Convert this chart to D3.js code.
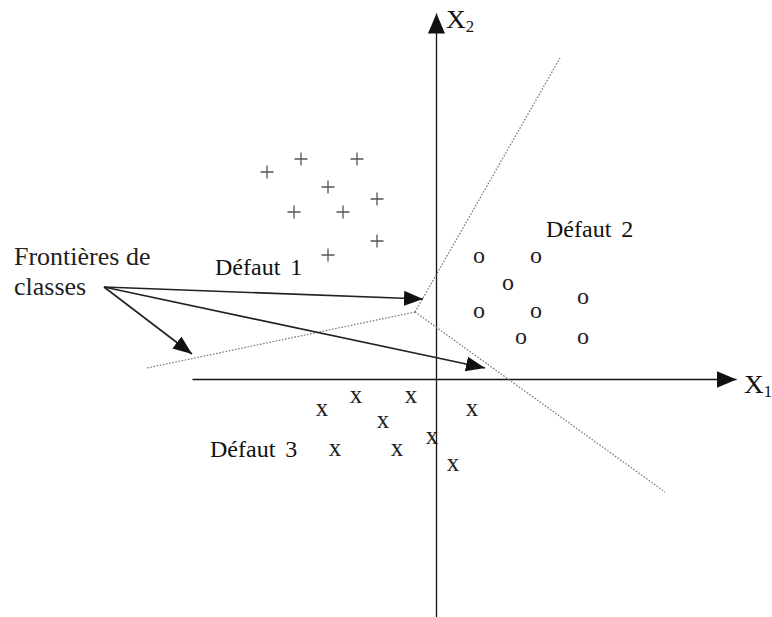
<!DOCTYPE html>
<html>
<head>
<meta charset="utf-8">
<script src="https://cdnjs.cloudflare.com/ajax/libs/d3/7.8.5/d3.min.js"></script>
<style>
  body { margin: 0; background: #fff; }
  svg { display: block; }
</style>
</head>
<body>
<div id="chart"></div>
<script>
// class scatter with decision boundaries
// units: 1 = 10px, origin at axis crossing

const plusX = [-16.9, -13.5, -7.9, -10.8, -14.2, -9.3, -5.9, -5.9, -10.8];
const plusY = [20.7, 22.0, 22.0, 19.2, 16.7, 16.7, 18.0, 13.8, 12.4];

const circX = [4.3, 10.0, 7.2, 14.7, 4.3, 10.0, 8.5, 14.7];
const circY = [12.2, 12.2, 9.5, 8.1, 6.7, 6.7, 4.1, 4.1];

const crossX = [-11.4, -8.0, -2.5, -5.3, 3.6, -0.4, -10.1, -3.9, 1.7];
const crossY = [-3.1, -1.8, -1.8, -4.3, -3.1, -5.9, -7.1, -7.1, -8.6];

// boundary polylines (gray dotted)
const boundaryUpper = [[-2.1, 6.7], [-1.3, 8.1], [12.4, 32.1]];
const boundaryLeft = [[-2.1, 6.7], [-28.9, 1.1]];
const boundaryRight = [[-2.1, 6.7], [22.9, -11.3]];

// "Frontières de classes" arrows
const arrowFrom = [-33.2, 9.2];
const arrowTips = [[-1.3, 8.0], [4.9, 1.1], [-24.4, 2.5]];

const classNames = ["Défaut", "Défaut", "Défaut"];
const classNums = ["1", "2", "3"];
const classLabelX = [-22.1, 11.0, -22.6];
const classLabelY = [10.4, 14.2, -7.8];

const axisX1 = [-24.4, 30.0];
const axisX2 = [-24.0, 36.6];

const W = 772, H = 617;
const FONT = "'Liberation Serif', 'DejaVu Serif', serif";

const svg = d3.select("#chart").append("svg")
    .attr("width", W)
    .attr("height", H);

const x = d3.scaleLinear().domain([0, 10]).range([436, 536]);
const y = d3.scaleLinear().domain([0, 10]).range([379, 279]);

// arrow markers
const defs = svg.append("defs");
function addMarker(id, len, wid) {
    defs.append("marker")
        .attr("id", id)
        .attr("markerUnits", "userSpaceOnUse")
        .attr("viewBox", `0 ${-wid / 2} ${len} ${wid}`)
        .attr("refX", len)
        .attr("refY", 0)
        .attr("markerWidth", len)
        .attr("markerHeight", wid)
        .attr("orient", "auto")
        .append("path")
        .attr("d", `M0,${-wid / 2}L${len},0L0,${wid / 2}Z`)
        .attr("fill", "#111");
}
addMarker("axisHead", 20, 17);
addMarker("noteHead", 19, 15);

// axes (no ticks, just the domain line with an arrow)
const xa = x.copy().domain(axisX1).range(axisX1.map(x));
const ya = y.copy().domain(axisX2).range(axisX2.map(y));

const gx = svg.append("g")
    .attr("transform", `translate(0,${y(0)})`)
    .call(d3.axisBottom(xa).tickValues([]).tickSizeOuter(0));
const gy = svg.append("g")
    .attr("transform", `translate(${x(0)},0)`)
    .call(d3.axisLeft(ya).tickValues([]).tickSizeOuter(0));

[gx, gy].forEach(g => {
    g.select(".domain")
        .attr("stroke", "#111")
        .attr("stroke-width", 1.3)
        .attr("marker-end", "url(#axisHead)");
});

// axis labels
function axisLabel(px, py, main, sub) {
    const t = svg.append("text")
        .attr("transform", `translate(${px},${py}) scale(1.05,1)`)
        .attr("font-family", FONT)
        .attr("fill", "#111")
        .attr("font-size", 26);
    t.append("tspan").text(main);
    t.append("tspan").attr("font-size", 16).attr("dy", 4).text(sub);
}
axisLabel(x(1.0), y(35.1), "X", "2");
axisLabel(x(30.8), y(-1.4), "X", "1");

// boundaries
const line = d3.line().x(d => x(d[0])).y(d => y(d[1]));
[boundaryUpper, boundaryLeft, boundaryRight].forEach(b => {
    svg.append("path")
        .attr("d", line(b))
        .attr("fill", "none")
        .attr("stroke", "#777")
        .attr("stroke-width", 1.2)
        .attr("stroke-dasharray", "1.6,1.6");
});

// annotation arrows
arrowTips.forEach(t => {
    svg.append("line")
        .attr("x1", x(arrowFrom[0])).attr("y1", y(arrowFrom[1]))
        .attr("x2", x(t[0])).attr("y2", y(t[1]))
        .attr("stroke", "#222")
        .attr("stroke-width", 1.6)
        .attr("marker-end", "url(#noteHead)");
});

// "+" markers as thin crosses
const arm = 6.5;
svg.append("g").selectAll("path")
    .data(plusX.map((v, i) => [v, plusY[i]]))
    .enter()
    .append("path")
    .attr("d", d => `M${x(d[0]) - arm},${y(d[1])}H${x(d[0]) + arm}M${x(d[0])},${y(d[1]) - arm}V${y(d[1]) + arm}`)
    .attr("stroke", "#555")
    .attr("stroke-width", 1.3);

// "o" and "x" markers as glyphs
function glyphs(xs, ys, ch, size, lift) {
    svg.append("g").selectAll("text")
        .data(xs.map((v, i) => [v, ys[i]]))
        .enter()
        .append("text")
        .attr("x", d => x(d[0]))
        .attr("y", d => y(d[1]) + lift)
        .attr("text-anchor", "middle")
        .attr("font-family", FONT)
        .attr("font-size", size)
        .attr("fill", "#222")
        .text(ch);
}
glyphs(circX, circY, "o", 24, 5.5);
glyphs(crossX, crossY, "x", 25, 5.5);

// class labels
classNames.forEach((n, i) => {
    const t = svg.append("text")
        .attr("x", x(classLabelX[i]))
        .attr("y", y(classLabelY[i]))
        .attr("font-family", FONT)
        .attr("fill", "#111")
        .attr("font-size", 24);
    t.append("tspan").text(n);
    t.append("tspan").attr("dx", 10).text(classNums[i]);
});

// note text
const note = svg.append("text")
    .attr("font-family", FONT)
    .attr("fill", "#222")
    .attr("font-size", 26);
note.append("tspan").attr("x", x(-42.2)).attr("y", y(11.4)).text("Frontières de");
note.append("tspan").attr("x", x(-42.2)).attr("y", y(8.4)).text("classes");
</script>
</body>
</html>
